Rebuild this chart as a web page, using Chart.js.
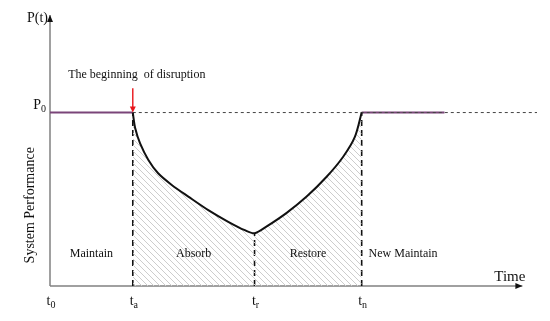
<!DOCTYPE html>
<html>
<head>
<meta charset="utf-8">
<script src="https://cdn.jsdelivr.net/npm/chart.js@4.4.1/dist/chart.umd.min.js"></script>
<style>
  html, body { margin: 0; padding: 0; background: #fff; }
  #wrap { width: 550px; height: 321px; }
</style>
</head>
<body>
<div id="wrap"><canvas id="resilience-chart"></canvas></div>
<script>
// time marks on the x axis (t0, ta, tr, tn) and their subscripts
const timeMarks = [0, 17, 42, 64];
const timeSubs = ['0', 'a', 'r', 'n'];
const maintainEnd = 81;      // end of the "new maintain" solid line
const refLineEnd = 100;      // end of the dotted P0 reference line
const xAxisEnd = 97;
const yAxisEnd = 100;

// performance levels
const p0 = 64;
const curveX = [17, 17.5, 18.5, 20.2, 22.2, 25, 28.4, 32.5, 36.6, 40, 42, 44.5, 48.6, 52.7, 56.8, 60.2, 62.6, 64];
const curveY = [64, 58.2, 52.6, 46.5, 41.6, 37.3, 33, 28, 23.7, 20.6, 19.5, 22, 27, 33, 40.3, 47.7, 55, 64];
const curveMin = 19.5;
const arrowTop = 73;

const phaseLabels = ['Maintain', 'Absorb', 'Restore', 'New Maintain'];
const phaseLevel = 11.8;

const serif = '"Liberation Serif", "Times New Roman", serif';

// hatch for the performance-loss area
const makeHatch = () => {
  const c = document.createElement('canvas');
  c.width = 6; c.height = 6;
  const g = c.getContext('2d');
  g.strokeStyle = '#cdcdcd';
  g.lineWidth = 1;
  g.beginPath();
  g.moveTo(-1, -1); g.lineTo(7, 7);
  g.moveTo(-1, 5); g.lineTo(1, 7);
  g.moveTo(5, -1); g.lineTo(7, 1);
  g.stroke();
  return document.createElement('canvas').getContext('2d').createPattern(c, 'repeat');
};

const pts = (xs, ys) => xs.map((x, i) => ({ x, y: ys[i] }));
const seg = (x1, y1, x2, y2) => [{ x: x1, y: y1 }, { x: x2, y: y2 }];

const lineSet = (data, color, width, dash, extra) => Object.assign({
  data,
  borderColor: color,
  borderWidth: width,
  borderDash: dash || [],
  pointRadius: 0,
  fill: false,
  clip: false,
  tension: 0,
}, extra || {});

const datasets = [
  // loss area + curve
  lineSet(pts(curveX, curveY), '#111', 2, null, {
    fill: 'origin',
    backgroundColor: makeHatch(),
    tension: 0.3,
  }),
  // dotted reference at P0
  lineSet(seg(timeMarks[1], p0, refLineEnd, p0), '#444', 1, [3, 3]),
  // maintain phases
  lineSet(seg(timeMarks[0], p0, timeMarks[1], p0), '#7a4579', 2),
  lineSet(seg(timeMarks[3], p0, maintainEnd, p0), '#7a4579', 2),
  // dashed verticals
  lineSet(seg(timeMarks[1], 0, timeMarks[1], p0), '#111', 1.6, [6, 4]),
  lineSet(seg(timeMarks[2], 0, timeMarks[2], curveMin), '#111', 1.6, [6, 4]),
  lineSet(seg(timeMarks[3], 0, timeMarks[3], p0), '#111', 1.6, [6, 4]),
  // axes
  lineSet(seg(0, 0, xAxisEnd, 0), '#808080', 1.5),
  lineSet(seg(0, 0, 0, yAxisEnd), '#808080', 1.5),
  // disruption arrow
  lineSet(seg(timeMarks[1], arrowTop, timeMarks[1], p0 + 1.5), '#e8141a', 1.4),
];

const head = (ctx, x, y, dir, color, len, half) => {
  ctx.save();
  ctx.fillStyle = color;
  ctx.beginPath();
  if (dir === 'up') { ctx.moveTo(x, y); ctx.lineTo(x - half, y + len); ctx.lineTo(x + half, y + len); }
  if (dir === 'right') { ctx.moveTo(x, y); ctx.lineTo(x - len, y - half); ctx.lineTo(x - len, y + half); }
  if (dir === 'down') { ctx.moveTo(x, y); ctx.lineTo(x - half, y - len); ctx.lineTo(x + half, y - len); }
  ctx.closePath();
  ctx.fill();
  ctx.restore();
};

const subText = (ctx, main, sub, x, y, size, align) => {
  ctx.font = size + 'px ' + serif;
  const w1 = ctx.measureText(main).width;
  ctx.font = Math.round(size * 0.7) + 'px ' + serif;
  const w2 = ctx.measureText(sub).width;
  let left = x;
  if (align === 'center') left = x - (w1 + w2) / 2;
  if (align === 'right') left = x - (w1 + w2);
  ctx.textAlign = 'left';
  ctx.textBaseline = 'alphabetic';
  ctx.font = size + 'px ' + serif;
  ctx.fillText(main, left, y);
  ctx.font = Math.round(size * 0.7) + 'px ' + serif;
  ctx.fillText(sub, left + w1, y + 3);
};

const decorations = {
  id: 'decorations',
  afterDatasetsDraw(chart) {
    const { ctx } = chart;
    const xs = chart.scales.x;
    const ys = chart.scales.y;
    const px = (v) => xs.getPixelForValue(v);
    const py = (v) => ys.getPixelForValue(v);

    head(ctx, px(xAxisEnd), py(0), 'right', '#111', 7, 3);
    head(ctx, px(0), py(yAxisEnd), 'up', '#111', 7, 3);
    head(ctx, px(timeMarks[1]), py(p0), 'down', '#e8141a', 6, 3);

    ctx.save();
    ctx.fillStyle = '#111';

    timeMarks.forEach((t, i) => subText(ctx, 't', timeSubs[i], px(t) + 1, py(0) + 19, 14, 'center'));

    subText(ctx, 'P', '0', px(0) - 4, py(p0) - 4, 14, 'right');

    ctx.font = '14px ' + serif;
    ctx.textAlign = 'right';
    ctx.textBaseline = 'middle';
    ctx.fillText('P(t)', px(0) - 2, py(yAxisEnd) + 3);

    ctx.textAlign = 'center';
    ctx.font = '12px ' + serif;
    ctx.fillText('The beginning  of disruption', px(timeMarks[1]) + 4, py(p0) - 38);

    const bounds = [timeMarks[0], timeMarks[1], timeMarks[2], timeMarks[3], maintainEnd];
    phaseLabels.forEach((label, i) => {
      const cx = (px(bounds[i]) + px(bounds[i + 1])) / 2;
      ctx.fillText(label, cx, py(phaseLevel));
    });

    ctx.font = '15px ' + serif;
    ctx.textAlign = 'right';
    ctx.fillText('Time', px(xAxisEnd) + 3, py(0) - 9);

    ctx.translate(px(0) - 20, (py(p0) + py(0)) / 2 + 6);
    ctx.rotate(-Math.PI / 2);
    ctx.textAlign = 'center';
    ctx.font = '14px ' + serif;
    ctx.fillText('System Performance', 0, 0);
    ctx.restore();
  },
};

new Chart(document.getElementById('resilience-chart').getContext('2d'), {
  type: 'line',
  data: { datasets },
  options: {
    responsive: true,
    maintainAspectRatio: false,
    animation: false,
    events: [],
    layout: { padding: { left: 50, right: 13, top: 15, bottom: 35 } },
    plugins: { legend: { display: false }, tooltip: { enabled: false } },
    scales: {
      x: { type: 'linear', min: 0, max: 100, display: false },
      y: { type: 'linear', min: 0, max: 100, display: false },
    },
  },
  plugins: [decorations],
});
</script>
</body>
</html>
